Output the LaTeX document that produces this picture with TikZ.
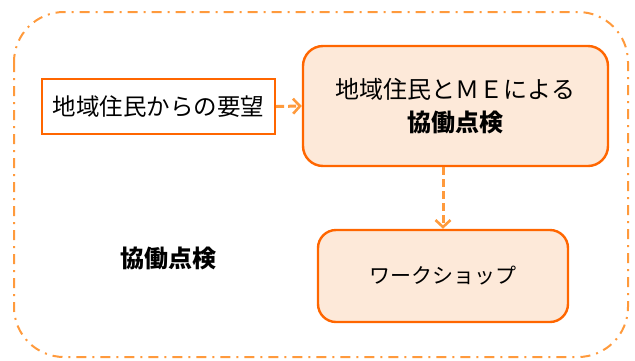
\documentclass[tikz,border=0pt]{standalone}
\usepackage{fontspec}
\setmainfont{Noto Sans CJK JP}
\usetikzlibrary{arrows.meta}
\definecolor{borange}{HTML}{FF6600}
\definecolor{lorange}{HTML}{FF9A3C}
\definecolor{pfill}{HTML}{FDE9D9}
\begin{document}
\begin{tikzpicture}[x=1pt,y=-1pt,
  plainbox/.style={draw=borange,line width=2.4pt,fill=white,inner sep=0pt},
  softbox/.style={draw=borange,line width=2.4pt,fill=pfill,rounded corners=20pt,inner sep=0pt},
  conn/.style={draw=lorange,line width=3pt,dash pattern=on 8pt off 4pt,
    -{Straight Barb[length=7pt,width=15pt,line width=2.6pt]}},
  frame/.style={draw=lorange,line width=2pt,dash pattern=on 10pt off 6pt on 2pt off 6pt,rounded corners=50pt}]
\useasboundingbox (0,0) rectangle (635,360);
\draw[frame] (14,12) rectangle (628,357);
\node[plainbox,minimum width=233pt,minimum height=55pt,font=\fontsize{23.5}{26}\selectfont] (req) at (158.5,106.5) {地域住民からの要望};
\node[softbox,minimum width=305pt,minimum height=120pt,align=center,font=\fontsize{24}{33}\selectfont] (me) at (455.5,106) {地域住民とＭＥによる\\\textbf{協働点検}};
\node[softbox,rounded corners=18pt,minimum width=250pt,minimum height=92pt,font=\fontsize{21}{24}\selectfont] (ws) at (443,276) {ワークショップ};
\node[font=\bfseries\fontsize{24}{26}\selectfont] (lab) at (168,258) {協働点検};
\draw[conn] (req.east) -- (me.west);
\draw[conn] (me.south -| ws.north) -- (ws.north);
\end{tikzpicture}
\end{document}
